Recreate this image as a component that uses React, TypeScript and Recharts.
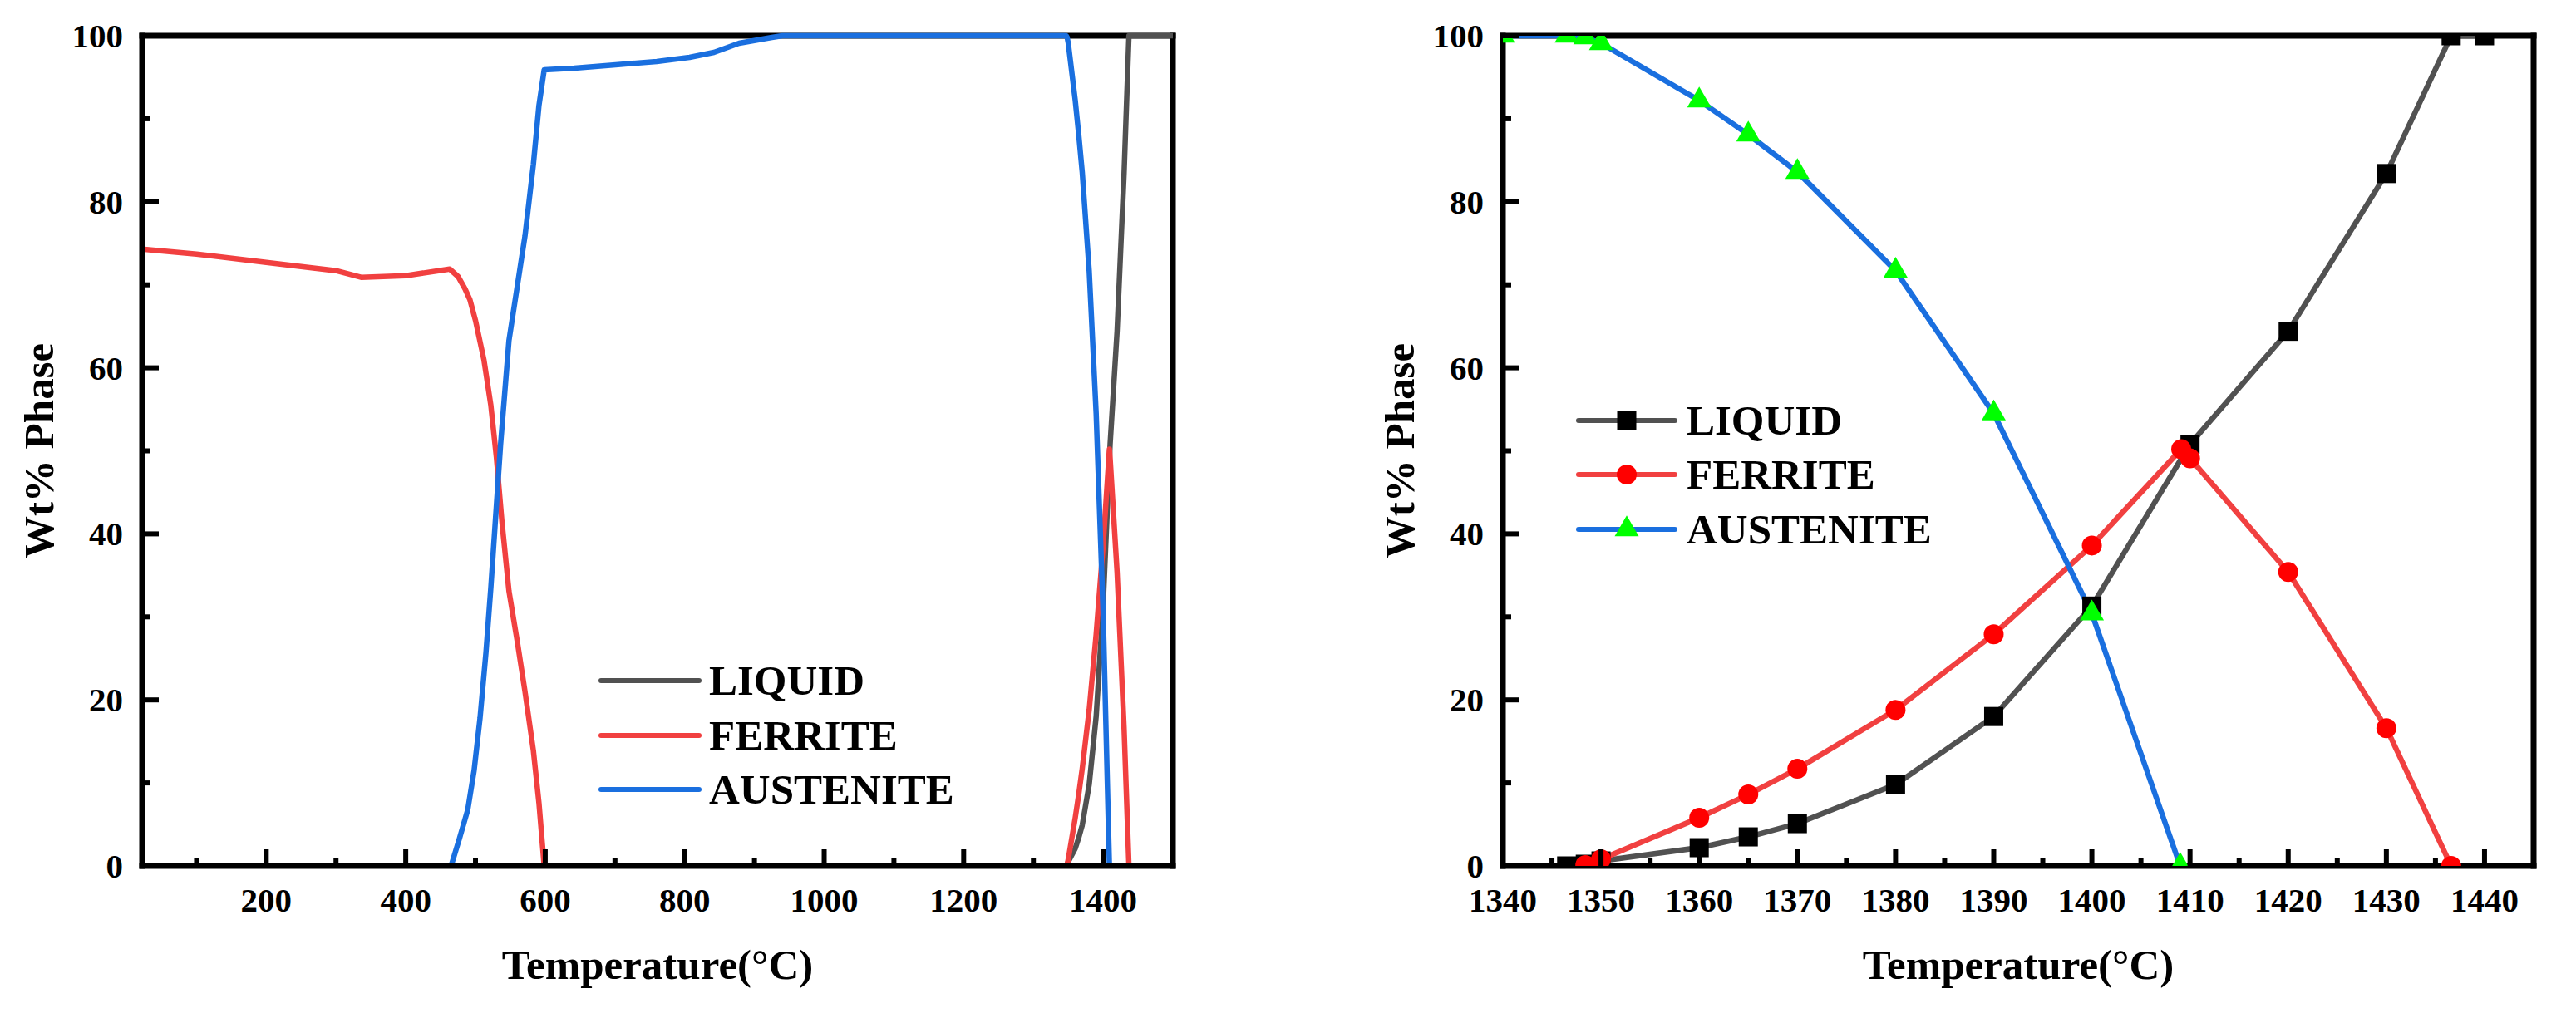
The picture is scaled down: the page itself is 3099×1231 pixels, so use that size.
import React from 'react';
import { LineChart, Line, XAxis, YAxis, ReferenceLine, Legend, Label } from 'recharts';

const FONT = "'Liberation Serif', 'Times New Roman', Times, serif";
const GRAY = '#515151';
const RED = '#F14040';
const BLUE = '#1A6FDF';
const SQUARE_FILL = '#000000';
const CIRCLE_FILL = '#FF0000';
const TRIANGLE_FILL = '#00FF00';

const SERIES_NAMES = ['LIQUID', 'FERRITE', 'AUSTENITE'];
const SERIES_COLORS = [GRAY, RED, BLUE];

// ---------- Left panel (full temperature range) ----------
const LEFT_X_DOMAIN = [22, 1500];
const LEFT_X_TICKS = [100, 200, 300, 400, 500, 600, 700, 800, 900, 1000, 1100, 1200, 1300, 1400];
const LEFT_X_MAJOR = [200, 400, 600, 800, 1000, 1200, 1400];

const LEFT_LIQUID_T = [1347, 1350, 1360, 1365, 1370, 1380, 1390, 1400, 1410, 1420, 1430, 1437, 1500];
const LEFT_LIQUID = [0, 0.5, 2.1, 3.4, 4.9, 9.8, 18.0, 31.4, 50.8, 64.4, 83.4, 100, 100];

const LEFT_FERRITE_LOW_T = [22, 100, 200, 300, 336, 400, 463, 475, 485, 492, 500, 512, 522, 530, 538, 548, 560, 571, 583, 591, 598.5];
const LEFT_FERRITE_LOW = [74.3, 73.7, 72.7, 71.7, 70.9, 71.1, 71.9, 71.0, 69.5, 68.2, 65.7, 61.0, 55.5, 49.2, 41.4, 33.1, 27.0, 21.0, 13.9, 7.6, 0];

const LEFT_FERRITE_HIGH_T = [1348, 1350, 1360, 1365, 1370, 1380, 1390, 1400, 1409, 1410, 1420, 1430, 1437];
const LEFT_FERRITE_HIGH = [0, 0.8, 5.8, 8.6, 11.7, 18.8, 27.9, 38.6, 50.2, 49.1, 35.4, 16.6, 0];

const LEFT_AUSTENITE_T = [465, 477, 489, 498, 506.5, 515, 522, 529, 536, 548, 559.5, 571, 583, 591, 598.5, 642, 701, 760, 807, 842, 878, 925, 940, 1347, 1348.4, 1350, 1360, 1365, 1370, 1380, 1390, 1400, 1409];
const LEFT_AUSTENITE = [0, 3.3, 6.8, 11.5, 17.8, 25.7, 33.5, 42.2, 50.8, 63.3, 69.6, 75.9, 84.5, 91.6, 95.9, 96.1, 96.5, 96.9, 97.4, 98.0, 99.1, 99.8, 100, 100, 99.8, 99.1, 92.2, 88.1, 83.6, 71.7, 54.5, 30.4, 0];

// ---------- Right panel (solidification range) ----------
const RIGHT_X_DOMAIN = [1340, 1445];
const RIGHT_X_TICKS = [1340, 1345, 1350, 1355, 1360, 1365, 1370, 1375, 1380, 1385, 1390, 1395, 1400, 1405, 1410, 1415, 1420, 1425, 1430, 1435, 1440];
const RIGHT_X_MAJOR = [1340, 1350, 1360, 1370, 1380, 1390, 1400, 1410, 1420, 1430, 1440];

const RIGHT_LIQUID_T = [1346.5, 1348.4, 1350, 1360, 1365, 1370, 1380, 1390, 1400, 1410, 1420, 1430, 1436.6, 1440];
const RIGHT_LIQUID = [0, 0.2, 0.6, 2.2, 3.5, 5.1, 9.8, 18.0, 31.3, 50.8, 64.4, 83.4, 100, 100];

const RIGHT_FERRITE_T = [1348.4, 1350, 1360, 1365, 1370, 1380, 1390, 1400, 1409.1, 1410, 1420, 1430, 1436.6];
const RIGHT_FERRITE = [0.1, 0.8, 5.8, 8.6, 11.7, 18.8, 27.9, 38.6, 50.2, 49.1, 35.4, 16.6, 0];

const RIGHT_AUSTENITE_T = [1340, 1346.5, 1348.4, 1350, 1360, 1365, 1370, 1380, 1390, 1400, 1409];
const RIGHT_AUSTENITE = [100, 100, 99.8, 99.1, 92.2, 88.1, 83.6, 71.7, 54.5, 30.4, 0];

// ---------- Shared Y axis ----------
const Y_DOMAIN = [0, 100];
const Y_TICKS = [0, 10, 20, 30, 40, 50, 60, 70, 80, 90, 100];
const Y_MAJOR = [0, 20, 40, 60, 80, 100];

const X_TITLE = 'Temperature(°C)';
const Y_TITLE = 'Wt% Phase';

const zip = (ts: number[], vs: number[]) => ts.map((t, i) => ({ t, v: vs[i] }));

const textStyle = { fontFamily: FONT, fontWeight: 'bold' as const, fill: '#000' };

function makeXTick(majors: number[]) {
  return (p: any) => {
    const { x, y, payload } = p;
    const isMajor = majors.includes(payload.value);
    return (
      <g key={`xt-${payload.value}`}>
        <line x1={x} x2={x} y1={y} y2={y - (isMajor ? 20 : 10)} stroke="#000" strokeWidth={6} />
        {isMajor && (
          <text x={x} y={y + 55} textAnchor="middle" fontSize={41} {...textStyle}>
            {payload.value}
          </text>
        )}
      </g>
    );
  };
}

function makeYTick(majors: number[]) {
  return (p: any) => {
    const { x, y, payload } = p;
    const isMajor = majors.includes(payload.value);
    return (
      <g key={`yt-${payload.value}`}>
        <line x1={x} x2={x + (isMajor ? 20 : 10)} y1={y} y2={y} stroke="#000" strokeWidth={6} />
        {isMajor && (
          <text x={x - 23} y={y + 14} textAnchor="end" fontSize={41} {...textStyle}>
            {payload.value}
          </text>
        )}
      </g>
    );
  };
}

const XTitle = (p: any) => {
  const vb = p.viewBox || {};
  const cx = vb.x + vb.width / 2;
  const cy = vb.y + 136;
  return (
    <text x={cx} y={cy} textAnchor="middle" fontSize={51} {...textStyle}>
      {X_TITLE}
    </text>
  );
};

const YTitle = (p: any) => {
  const vb = p.viewBox || {};
  const cx = vb.x + vb.width - 107;
  const cy = vb.y + vb.height / 2;
  return (
    <text x={cx} y={cy} transform={`rotate(-90 ${cx} ${cy})`} textAnchor="middle" fontSize={51} {...textStyle}>
      {Y_TITLE}
    </text>
  );
};

// ---------- Markers ----------
const squareDot = (p: any) => {
  const { cx, cy, index } = p;
  if (cx == null || cy == null) return <g key={`sq-${index}`} />;
  return <rect key={`sq-${index}`} x={cx - 11.5} y={cy - 11.5} width={23} height={23} fill={SQUARE_FILL} />;
};
const circleDot = (p: any) => {
  const { cx, cy, index } = p;
  if (cx == null || cy == null) return <g key={`ci-${index}`} />;
  return <circle key={`ci-${index}`} cx={cx} cy={cy} r={12} fill={CIRCLE_FILL} />;
};
const triPath = (cx: number, cy: number) =>
  `M${cx},${cy - 16.7} L${cx + 14.5},${cy + 8.3} L${cx - 14.5},${cy + 8.3} Z`;
const triangleDot = (p: any) => {
  const { cx, cy, index } = p;
  if (cx == null || cy == null) return <g key={`tr-${index}`} />;
  return <path key={`tr-${index}`} d={triPath(cx, cy)} fill={TRIANGLE_FILL} />;
};

// ---------- Legends ----------
const LeftLegend = () => {
  const rows = [39, 105, 170];
  return (
    <svg width={620} height={220} style={{ overflow: 'visible', display: 'block' }}>
      {SERIES_NAMES.map((name, i) => (
        <g key={name}>
          <line x1={23} x2={141} y1={rows[i]} y2={rows[i]} stroke={SERIES_COLORS[i]} strokeWidth={6} strokeLinecap="round" />
          <text x={153} y={rows[i] + 17} fontSize={51} {...textStyle}>
            {name}
          </text>
        </g>
      ))}
    </svg>
  );
};

const RightLegend = () => {
  const rows = [36, 101, 167];
  const mx = 77;
  return (
    <svg width={620} height={220} style={{ overflow: 'visible', display: 'block' }}>
      {SERIES_NAMES.map((name, i) => (
        <g key={name}>
          <line x1={19} x2={135} y1={rows[i]} y2={rows[i]} stroke={SERIES_COLORS[i]} strokeWidth={6} strokeLinecap="round" />
          {i === 0 && <rect x={mx - 11.5} y={rows[i] - 11.5} width={23} height={23} fill={SQUARE_FILL} />}
          {i === 1 && <circle cx={mx} cy={rows[i]} r={12} fill={CIRCLE_FILL} />}
          {i === 2 && <path d={triPath(mx, rows[i])} fill={TRIANGLE_FILL} />}
          <text x={149} y={rows[i] + 17} fontSize={51} {...textStyle}>
            {name}
          </text>
        </g>
      ))}
    </svg>
  );
};

const frameLine = { stroke: '#000', strokeWidth: 7, strokeLinecap: 'square' as const };

const LeftChart = () => (
  <LineChart width={1550} height={1231} margin={{ top: 43, right: 139, bottom: 0, left: 0 }}>
    <XAxis
      type="number"
      dataKey="t"
      domain={LEFT_X_DOMAIN}
      ticks={LEFT_X_TICKS}
      interval={0}
      height={189}
      tickSize={0}
      tickMargin={0}
      tickLine={false}
      axisLine={frameLine}
      tick={makeXTick(LEFT_X_MAJOR)}
    >
      <Label content={XTitle} />
    </XAxis>
    <YAxis
      type="number"
      domain={Y_DOMAIN}
      ticks={Y_TICKS}
      interval={0}
      width={171}
      tickSize={0}
      tickMargin={0}
      tickLine={false}
      axisLine={frameLine}
      tick={makeYTick(Y_MAJOR)}
    >
      <Label content={YTitle} />
    </YAxis>
    <ReferenceLine y={100} {...frameLine} />
    <ReferenceLine x={1500} {...frameLine} />
    <Legend layout="vertical" align="center" verticalAlign="middle" content={LeftLegend} wrapperStyle={{ left: 700, top: 780, width: 620, height: 220 }} />
    <Line data={zip(LEFT_LIQUID_T, LEFT_LIQUID)} dataKey="v" name="LIQUID" stroke={GRAY} strokeWidth={6.5} dot={false} activeDot={false} isAnimationActive={false} type="linear" strokeLinejoin="round" />
    <Line data={zip(LEFT_FERRITE_LOW_T, LEFT_FERRITE_LOW)} dataKey="v" name="FERRITE" stroke={RED} strokeWidth={6.5} dot={false} activeDot={false} isAnimationActive={false} type="linear" strokeLinejoin="round" />
    <Line data={zip(LEFT_FERRITE_HIGH_T, LEFT_FERRITE_HIGH)} dataKey="v" name="FERRITE " legendType="none" stroke={RED} strokeWidth={6.5} dot={false} activeDot={false} isAnimationActive={false} type="linear" strokeLinejoin="round" />
    <Line data={zip(LEFT_AUSTENITE_T, LEFT_AUSTENITE)} dataKey="v" name="AUSTENITE" stroke={BLUE} strokeWidth={6.5} dot={false} activeDot={false} isAnimationActive={false} type="linear" strokeLinejoin="round" />
  </LineChart>
);

const RightChart = () => (
  <LineChart width={1549} height={1231} margin={{ top: 43, right: 51, bottom: 0, left: 0 }}>
    <XAxis
      type="number"
      dataKey="t"
      domain={RIGHT_X_DOMAIN}
      allowDataOverflow
      ticks={RIGHT_X_TICKS}
      interval={0}
      height={189}
      tickSize={0}
      tickMargin={0}
      tickLine={false}
      axisLine={frameLine}
      tick={makeXTick(RIGHT_X_MAJOR)}
    >
      <Label content={XTitle} />
    </XAxis>
    <YAxis
      type="number"
      domain={Y_DOMAIN}
      allowDataOverflow
      ticks={Y_TICKS}
      interval={0}
      width={258}
      tickSize={0}
      tickMargin={0}
      tickLine={false}
      axisLine={frameLine}
      tick={makeYTick(Y_MAJOR)}
    >
      <Label content={YTitle} />
    </YAxis>
    <ReferenceLine y={100} {...frameLine} />
    <ReferenceLine x={1445} {...frameLine} />
    <Legend layout="vertical" align="center" verticalAlign="middle" content={RightLegend} wrapperStyle={{ left: 330, top: 470, width: 620, height: 220 }} />
    <Line data={zip(RIGHT_LIQUID_T, RIGHT_LIQUID)} dataKey="v" name="LIQUID" stroke={GRAY} strokeWidth={6.5} dot={squareDot} activeDot={false} isAnimationActive={false} type="linear" strokeLinejoin="round" />
    <Line data={zip(RIGHT_FERRITE_T, RIGHT_FERRITE)} dataKey="v" name="FERRITE" stroke={RED} strokeWidth={6.5} dot={circleDot} activeDot={false} isAnimationActive={false} type="linear" strokeLinejoin="round" />
    <Line data={zip(RIGHT_AUSTENITE_T, RIGHT_AUSTENITE)} dataKey="v" name="AUSTENITE" stroke={BLUE} strokeWidth={6.5} dot={triangleDot} activeDot={false} isAnimationActive={false} type="linear" strokeLinejoin="round" />
  </LineChart>
);

export default function App() {
  return (
    <div style={{ position: 'absolute', left: 0, top: 0, width: 3099, height: 1231, background: '#fff', overflow: 'hidden', display: 'flex' }}>
      <div style={{ width: 1550, height: 1231, position: 'relative' }}>
        <LeftChart />
      </div>
      <div style={{ width: 1549, height: 1231, position: 'relative' }}>
        <RightChart />
      </div>
    </div>
  );
}
